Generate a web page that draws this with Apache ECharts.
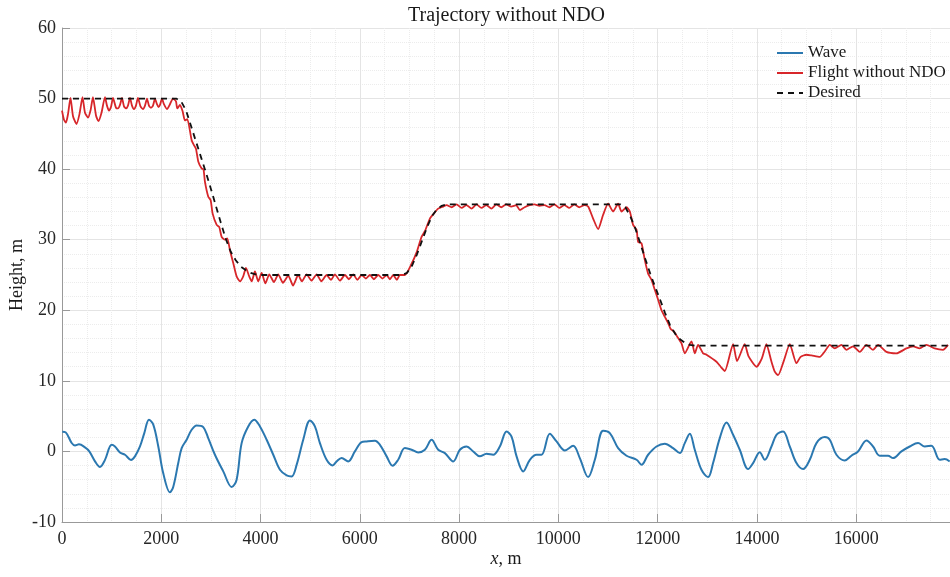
<!DOCTYPE html>
<html>
<head>
<meta charset="utf-8">
<script src="https://cdn.jsdelivr.net/npm/echarts@6/dist/echarts.min.js"></script>
<style>
  html, body { margin: 0; padding: 0; background: #fff; }
  #main { width: 950px; height: 577px; }
</style>
</head>
<body>
<div id="main"></div>
<script type="text/javascript">
// wave under the aircraft
var waveX = [6, 75, 195, 262, 342, 463, 550, 665, 765, 866, 1001, 1067, 1168, 1269, 1390, 1470, 1571, 1658, 1752, 1839,
  1940, 2040, 2175, 2242, 2342, 2411, 2511, 2612, 2713, 2846, 2946, 3081, 3249, 3418, 3518, 3619, 3752, 3873, 3988, 4123,
  4256, 4391, 4526, 4626, 4727, 4860, 4995, 5095, 5196, 5331, 5452, 5532, 5633, 5766, 5901, 6036, 6137, 6304, 6405, 6540,
  6660, 6773, 6908, 7043, 7176, 7311, 7446, 7579, 7714, 7881, 8016, 8151, 8284, 8419, 8553, 8686, 8821, 8956, 9057, 9158,
  9291, 9426, 9560, 9661, 9828, 9963, 10130, 10298, 10432, 10600, 10735, 10902, 11037, 11204, 11373, 11575, 11675, 11808, 11977, 12144,
  12311, 12446, 12547, 12648, 12748, 12883, 13016, 13117, 13252, 13387, 13520, 13655, 13822, 13923, 14058, 14158, 14293, 14394, 14527, 14662,
  14797, 14930, 15065, 15200, 15367, 15468, 15602, 15770, 15904, 16037, 16207, 16340, 16475, 16642, 16742, 16912, 17079, 17246, 17381, 17516,
  17683, 17784, 17884];
var waveY = [2.8, 2.7, 1.2, 0.85, 1.0, 0.57, 0, -1.4, -2.2, -1.2, 0.94, 0.7, -0.14, -0.47, -1.2, -0.7, 0.7, 2.6, 4.5, 3.8,
  0.7, -3.1, -5.8, -5.0, -1.65, 0.47, 1.65, 3.07, 3.68, 3.45, 1.89, -0.47, -2.83, -5.05, -4.0, 1.18, 3.54, 4.5, 3.54, 1.65,
  -0.47, -2.6, -3.4, -3.54, -1.9, 1.65, 4.4, 3.54, 1.18, -1.18, -1.98, -1.42, -0.94, -1.42, 0, 1.32, 1.42, 1.51, 0.94, -0.7,
  -2.03, -1.18, 0.47, 0.24, -0.14, 0.24, 1.65, 0.24, -0.24, -1.42, 0.24, 0.7, 0, -0.7, -0.33, -0.47, 0.7, 2.83, 2.1, -0.7,
  -2.83, -1.18, -0.47, -0.47, 2.5, 1.42, 0.14, 0.8, -0.94, -3.64, -1.18, 2.93, 2.6, 0.47, -0.61, -1.18, -1.89, -0.47, 0.7, 1.09,
  0.47, -0.24, 1.18, 2.5, 0.24, -2.6, -3.64, -1.65, 1.89, 4.1, 2.36, 0.24, -2.5, -1.65, -0.1, -1.18, 0.7, 2.36, 2.83, 0.7,
  -1.65, -2.5, -1.18, 1.18, 2.03, 1.65, -0.47, -1.28, -0.61, 0, 1.56, 0.7, -0.61, -0.61, -0.94, 0, 0.7, 1.18, 0.7, 0.8,
  -1.18, -1.09, -1.42];

// flight height without NDO
var flightX = [0, 40, 80, 121, 171, 222, 292, 352, 413, 463, 524, 574, 624, 685, 735, 796, 866, 906, 947, 987,
  1027, 1088, 1128, 1168, 1208, 1249, 1289, 1329, 1370, 1410, 1450, 1490, 1530, 1581, 1631, 1672, 1712, 1752, 1792, 1833,
  1873, 1913, 1944, 1974, 2014, 2054, 2115, 2175, 2236, 2296, 2322, 2377, 2430, 2477, 2524, 2612, 2658, 2699, 2745, 2814,
  2850, 2880, 2947, 2995, 3035, 3116, 3168, 3216, 3283, 3329, 3384, 3450, 3518, 3585, 3651, 3706, 3772, 3821, 3887, 3953,
  4022, 4098, 4175, 4270, 4356, 4451, 4558, 4655, 4759, 4834, 4928, 5025, 5130, 5226, 5331, 5418, 5498, 5599, 5700, 5780,
  5867, 5951, 6036, 6123, 6203, 6284, 6370, 6455, 6540, 6606, 6672, 6747, 6807, 6908, 7043, 7144, 7244, 7311, 7412, 7478,
  7579, 7679, 7748, 7850, 7950, 8050, 8150, 8250, 8350, 8450, 8550, 8650, 8750, 8850, 8950, 9050, 9150, 9224, 9320, 9420,
  9520, 9620, 9720, 9820, 9920, 10020, 10120, 10220, 10320, 10420, 10520, 10600, 10700, 10801, 10900, 11002, 11103, 11204, 11272, 11373,
  11440, 11506, 11575, 11607, 11675, 11742, 11808, 11877, 11943, 12010, 12078, 12144, 12211, 12259, 12326, 12392, 12481, 12547, 12682, 12748,
  12815, 12916, 12984, 13186, 13270, 13353, 13520, 13600, 13755, 13830, 13991, 14100, 14192, 14290, 14360, 14426, 14540, 14662, 14797, 14880,
  14998, 15100, 15266, 15370, 15468, 15568, 15703, 15803, 15936, 16071, 16206, 16339, 16440, 16609, 16810, 17012, 17145, 17280, 17414, 17581,
  17749, 17850];
var flightY = [48.3, 47.0, 46.6, 47.8, 50.1, 47.5, 46.4, 47.8, 50.2, 48.0, 47.3, 48.3, 50.2, 47.6, 46.8, 48.0, 50.2, 49.0, 48.3, 48.8,
  50.1, 48.7, 48.6, 49.1, 50.1, 48.9, 48.6, 49.0, 50.1, 49.0, 48.5, 49.0, 50.1, 48.9, 48.5, 49.0, 50.0, 49.0, 48.7, 49.0,
  50.0, 49.2, 48.8, 49.1, 50.0, 49.2, 48.5, 49.2, 50.0, 49.6, 48.6, 49.1, 48.2, 46.9, 47.1, 44.1, 43.4, 42.9, 41.1, 40.1,
  40.0, 38.2, 36.1, 35.6, 33.7, 32.1, 31.8, 30.4, 30.0, 30.2, 28.5, 26.7, 24.8, 24.1, 24.8, 26.0, 24.8, 24.1, 25.5, 24.1,
  25.3, 23.8, 25.1, 24.0, 25.1, 23.9, 24.9, 23.5, 25.0, 24.1, 25.1, 24.2, 25.1, 24.1, 25.0, 24.3, 25.1, 24.2, 25.0, 24.4,
  25.1, 24.3, 25.0, 24.5, 25.0, 24.4, 25.0, 24.5, 25.0, 24.4, 25.0, 24.3, 25.0, 25.0, 26.6, 28.2, 30.4, 31.2, 33.0, 33.6,
  34.4, 34.7, 34.9, 34.6, 35.0, 34.5, 34.9, 34.4, 35.0, 34.5, 34.9, 34.4, 35.0, 34.6, 35.0, 34.7, 34.9, 34.2, 34.6, 34.9,
  35.0, 34.8, 34.9, 34.6, 35.0, 34.5, 34.9, 34.5, 35.0, 34.6, 34.9, 34.7, 33.0, 31.5, 33.5, 35.1, 34.0, 35.1, 34.0, 34.6,
  34.0, 32.1, 31.4, 29.7, 29.5, 27.1, 25.2, 24.3, 22.9, 21.5, 20.0, 19.1, 18.2, 17.4, 17.0, 16.3, 15.3, 13.9, 15.6, 13.9,
  15.1, 13.9, 13.7, 12.7, 12.0, 11.4, 15.2, 12.8, 15.2, 13.5, 12.0, 13.2, 15.2, 12.8, 11.3, 10.8, 12.8, 15.2, 12.5, 13.4,
  13.7, 13.6, 13.4, 14.2, 15.1, 14.6, 15.1, 14.4, 14.9, 14.1, 15.1, 14.4, 15.1, 14.1, 13.9, 14.6, 14.9, 14.6, 15.1, 14.6,
  14.4, 15.1];

// desired trajectory
var desiredX = [0, 2300, 2400, 2500, 2600, 2700, 2800, 2900, 3000, 3100, 3200, 3300, 3400, 3500, 3600, 3700, 3800, 3900, 4000,
  6850, 6950, 7050, 7150, 7250, 7350, 7450, 7550, 7650, 7750,
  11250, 11350, 11450, 11550, 11650, 11750, 11850, 11950, 12050, 12150, 12250, 12350, 12450, 12550, 12650, 12750, 17890];
var desiredY = [50, 50, 49.6, 48.3, 46.1, 43.9, 41.7, 39.5, 37.2, 34.8, 32.4, 30.1, 28.3, 27.1, 26.2, 25.7, 25.3, 25.1, 25,
  25, 25.3, 26.3, 27.9, 29.8, 31.7, 33.3, 34.3, 34.8, 35,
  35, 34.6, 33.3, 31.6, 29.5, 27.3, 25.2, 23.3, 21.5, 19.6, 17.9, 16.7, 15.9, 15.4, 15.1, 15, 15];

function pairs(xs, ys) {
  return xs.map(function (x, i) { return [x, ys[i]]; });
}

var serif = 'Liberation Serif';
var myChart = echarts.init(document.getElementById('main'));

var option = {
  animation: false,
  backgroundColor: '#fff',
  title: {
    text: 'Trajectory without NDO',
    left: 403,
    top: 1,
    textStyle: { fontFamily: serif, fontSize: 20, fontWeight: 'normal', color: '#1a1a1a' }
  },
  legend: {
    orient: 'vertical',
    left: 771,
    top: 38,
    itemWidth: 26,
    itemHeight: 14,
    itemGap: 0,
    itemStyle: { opacity: 0 },
    textStyle: { fontFamily: serif, fontSize: 17, color: '#1a1a1a', lineHeight: 20 },
    data: ['Wave', 'Flight without NDO', 'Desired']
  },
  grid: { left: 62, right: 0, top: 28, bottom: 55, outerBoundsMode: 'none' },
  xAxis: {
    type: 'value',
    min: 0,
    max: 17890,
    interval: 2000,
    name: '{i|x}, m',
    nameLocation: 'middle',
    nameGap: 28,
    nameMoveOverlap: false,
    nameTextStyle: {
      fontFamily: serif, fontSize: 18, color: '#1a1a1a',
      rich: { i: { fontFamily: serif, fontSize: 18, fontStyle: 'italic', color: '#1a1a1a' } }
    },
    axisLine: { onZero: false, lineStyle: { color: '#999', width: 1 } },
    axisTick: { inside: true, length: 8, lineStyle: { color: '#999' } },
    axisLabel: {
      fontFamily: serif, fontSize: 18, color: '#262626', margin: 8, showMaxLabel: false,
      formatter: function (v) { return String(v); }
    },
    splitLine: { show: true, lineStyle: { color: '#e4e4e4', width: 1 } },
    minorTick: { show: false, splitNumber: 4 },
    minorSplitLine: { show: true, lineStyle: { color: '#ececec', type: 'dotted', width: 1 } }
  },
  yAxis: {
    type: 'value',
    min: -10,
    max: 60,
    interval: 10,
    name: 'Height, m',
    nameLocation: 'middle',
    nameGap: 36,
    nameMoveOverlap: false,
    nameTextStyle: { fontFamily: serif, fontSize: 18, color: '#1a1a1a' },
    axisLine: { show: true, onZero: false, lineStyle: { color: '#999', width: 1 } },
    axisTick: { show: true, inside: true, length: 8, lineStyle: { color: '#999' } },
    axisLabel: { fontFamily: serif, fontSize: 18, color: '#262626', margin: 6 },
    splitLine: { show: true, lineStyle: { color: '#e4e4e4', width: 1 } },
    minorTick: { show: false, splitNumber: 5 },
    minorSplitLine: { show: true, lineStyle: { color: '#ececec', type: 'dotted', width: 1 } }
  },
  series: [
    {
      name: 'Wave',
      type: 'line',
      data: pairs(waveX, waveY),
      symbol: 'none',
      smooth: 0.35,
      lineStyle: { color: '#2b78b0', width: 2 },
      itemStyle: { color: '#2b78b0' },
      z: 3
    },
    {
      name: 'Flight without NDO',
      type: 'line',
      data: pairs(flightX, flightY),
      symbol: 'none',
      smooth: 0.2,
      lineStyle: { color: '#d7262a', width: 1.8 },
      itemStyle: { color: '#d7262a' },
      z: 4
    },
    {
      name: 'Desired',
      type: 'line',
      data: pairs(desiredX, desiredY),
      symbol: 'none',
      lineStyle: { color: '#111', width: 1.8, type: [6, 5] },
      itemStyle: { color: '#111' },
      z: 5
    }
  ]
};

myChart.setOption(option);
window.addEventListener('resize', myChart.resize);
</script>
</body>
</html>
